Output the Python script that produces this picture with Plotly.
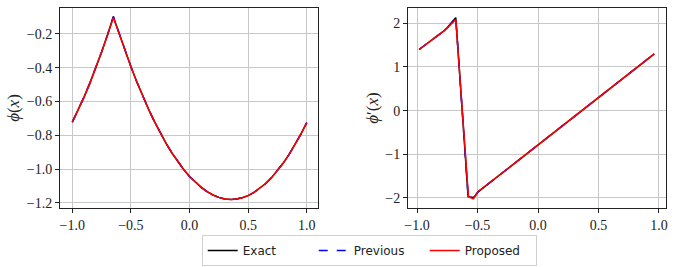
import plotly.graph_objects as go

# ---- data ----
phi_x = [-1.0, -0.95, -0.90, -0.85, -0.80, -0.75, -0.70, -0.675, -0.65, -0.625, -0.60,
         -0.55, -0.50, -0.45, -0.40, -0.35, -0.30, -0.25, -0.20, -0.15, -0.10, -0.05,
         0.0, 0.05, 0.10, 0.15, 0.20, 0.25, 0.30, 0.357, 0.40, 0.45, 0.50, 0.55, 0.60,
         0.65, 0.70, 0.75, 0.80, 0.85, 0.90, 0.95, 1.0]
phi_exact = [-0.722, -0.651, -0.574, -0.491, -0.402, -0.307, -0.206, -0.154, -0.097, -0.148, -0.200,
             -0.300, -0.394, -0.483, -0.567, -0.645, -0.718, -0.786, -0.848, -0.905, -0.957, -1.003,
             -1.044, -1.079, -1.109, -1.134, -1.154, -1.168, -1.177, -1.180, -1.178, -1.170, -1.158,
             -1.139, -1.115, -1.086, -1.051, -1.010, -0.964, -0.913, -0.856, -0.793, -0.725]
phi_prev = list(phi_exact)
phi_prop = [-0.722, -0.651, -0.574, -0.491, -0.402, -0.307, -0.207, -0.156, -0.104, -0.150, -0.201,
            -0.300, -0.394, -0.483, -0.567, -0.645, -0.718, -0.786, -0.848, -0.905, -0.957, -1.003,
            -1.044, -1.079, -1.109, -1.134, -1.154, -1.168, -1.177, -1.180, -1.178, -1.170, -1.158,
            -1.139, -1.115, -1.086, -1.051, -1.010, -0.964, -0.913, -0.856, -0.793, -0.725]

dphi_x_exact = [-0.983, -0.88, -0.78, -0.75, -0.68, -0.578, -0.55, -0.53, -0.495, -0.20, 0.10, 0.40, 0.70, 0.961]
dphi_exact = [1.40, 1.61, 1.82, 1.90, 2.13, -1.97, -1.98, -1.99, -1.86, -1.22, -0.57, 0.08, 0.72, 1.30]
dphi_prev = list(dphi_exact)
dphi_x_prop = [-0.983, -0.88, -0.78, -0.68, -0.575, -0.535, -0.495, -0.20, 0.10, 0.40, 0.70, 0.961]
dphi_prop = [1.40, 1.61, 1.82, 2.08, -1.97, -2.02, -1.85, -1.22, -0.57, 0.08, 0.72, 1.30]

x_ticks = [-1.0, -0.5, 0.0, 0.5, 1.0]
phi_ticks = [-1.2, -1.0, -0.8, -0.6, -0.4, -0.2]
dphi_ticks = [-2, -1, 0, 1, 2]

fig = go.Figure()
series = [
    ("Exact", "black", "solid", phi_x, phi_exact, dphi_x_exact, dphi_exact),
    ("Previous", "blue", "dash", phi_x, phi_prev, dphi_x_exact, dphi_prev),
    ("Proposed", "red", "solid", phi_x, phi_prop, dphi_x_prop, dphi_prop),
]
for name, col, dash, x1, y1, x2, y2 in series:
    fig.add_trace(go.Scatter(x=x1, y=y1, mode="lines", name=name,
                             line=dict(color=col, width=1.5, dash=dash),
                             xaxis="x", yaxis="y", showlegend=True))
    fig.add_trace(go.Scatter(x=x2, y=y2, mode="lines", name=name,
                             line=dict(color=col, width=1.5, dash=dash),
                             xaxis="x2", yaxis="y2", showlegend=False))

serif = "Liberation Serif, DejaVu Serif, serif"
ax_common = dict(showline=True, mirror=True, linecolor="#222", linewidth=1,
                 ticks="outside", ticklen=4, tickcolor="#222", automargin=False,
                 showgrid=True, gridcolor="#c8c8c8", gridwidth=1, zeroline=False,
                 tickfont=dict(family=serif, size=14, color="#222"))

yd = [1 - 208 / 267, 1 - 8 / 267]
fig.update_layout(
    width=675, height=267,
    margin=dict(l=0, r=0, t=0, b=0, autoexpand=False),
    paper_bgcolor="white", plot_bgcolor="white",
    xaxis=dict(domain=[60 / 675, 318 / 675], range=[-1.105, 1.096],
               tickvals=x_ticks, tickformat=".1f", anchor="y", **ax_common),
    yaxis=dict(domain=yd, range=[-1.231, -0.046], tickvals=phi_ticks, tickformat=".1f",
               anchor="x",
               title=dict(text="<i>ϕ</i>(<i>x</i>)", font=dict(family=serif, size=17, color="#222"),
                          standoff=2),
               **ax_common),
    xaxis2=dict(domain=[408 / 675, 666 / 675], range=[-1.075, 1.058],
                tickvals=x_ticks, tickformat=".1f", anchor="y2", **ax_common),
    yaxis2=dict(domain=yd, range=[-2.23, 2.35], tickvals=dphi_ticks, tickformat="d",
                anchor="x2",
                title=dict(text="<i>ϕ</i>′(<i>x</i>)", font=dict(family=serif, size=17, color="#222"),
                           standoff=2),
                **ax_common),
    legend=dict(orientation="h", x=0.547, xanchor="center", y=1 - 235 / 267, yanchor="top",
                bordercolor="#d0d0d0", borderwidth=1, bgcolor="white",
                entrywidth=66, entrywidthmode="pixels",
                font=dict(family="DejaVu Sans", size=12, color="#222")),
)

fig.write_html("out.html", config={"displayModeBar": False},
               post_script="document.body.style.margin='0';document.body.style.overflow='hidden';")
